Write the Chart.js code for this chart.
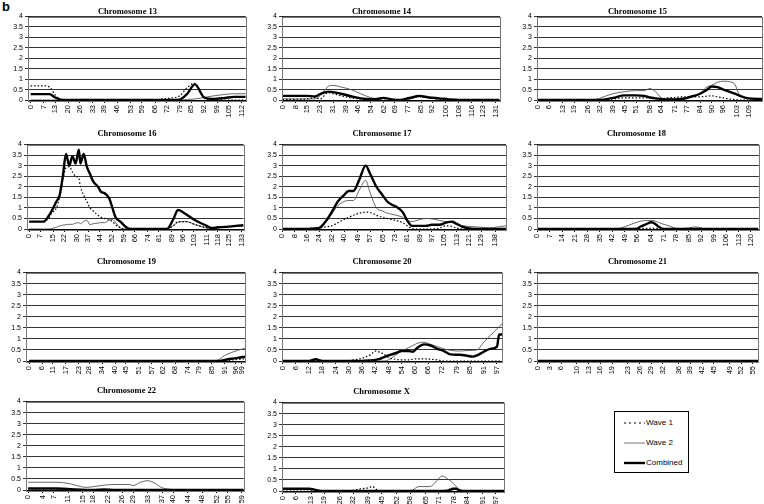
<!DOCTYPE html>
<html>
<head>
<meta charset="utf-8">
<script src="https://cdn.jsdelivr.net/npm/chart.js@4.4.0/dist/chart.umd.min.js"></script>
<style>
body { margin: 0; background: #fff; width: 764px; height: 504px; position: relative; overflow: hidden; font-family: "Liberation Sans", Arial, sans-serif; }
canvas { position: absolute; }
#tag { position: absolute; left: 2px; top: -1px; font: bold 13px "Liberation Sans", Arial, sans-serif; }
#legend { position: absolute; left: 614px; top: 411px; width: 73px; height: 60px; border: 1px solid #000; font-size: 8px; }
#legend div { position: absolute; left: 9px; height: 10px; line-height: 10px; }
#legend svg { vertical-align: middle; margin-right: 1px; }
</style>
</head>
<body>
<div id="tag">b</div>
<div id="legend">
  <div style="top:6px"><svg width="21" height="4"><line x1="0" y1="2" x2="21" y2="2" stroke="#000" stroke-width="1.2" stroke-dasharray="2,3"/></svg>Wave 1</div>
  <div style="top:26px"><svg width="21" height="4"><line x1="0" y1="2" x2="21" y2="2" stroke="#777" stroke-width="1"/></svg>Wave 2</div>
  <div style="top:46px"><svg width="21" height="4"><line x1="0" y1="2" x2="21" y2="2" stroke="#000" stroke-width="2.4"/></svg>Combined</div>
</div>
<script>
// positions (cM) and LOD-like scores
var chr13Ticks = [0, 7, 13, 20, 26, 33, 39, 46, 53, 59, 66, 72, 79, 85, 92, 99, 105, 112];
var chr13Pos = [0, 7, 10, 13, 16, 20, 26, 33, 40, 66, 70, 75, 79, 83, 87, 92, 97, 103, 108, 114];
var chr13Wave1 = [0.68, 0.68, 0.62, 0.25, 0.02, 0, 0, 0, 0, 0, 0.05, 0.1, 0.2, 0.6, 0.8, 0.1, 0.02, 0, 0, 0];
var chr13Wave2 = [0, 0, 0, 0, 0, 0, 0.03, 0.03, 0, 0, 0, 0, 0, 0.02, 0.05, 0.12, 0.2, 0.27, 0.3, 0.3];
var chr13Combined = [0.28, 0.28, 0.28, 0.12, 0.02, 0, 0, 0, 0, 0, 0, 0, 0.02, 0.3, 0.75, 0.12, 0.05, 0.1, 0.15, 0.15];

var chr14Ticks = [0, 8, 15, 23, 31, 39, 46, 54, 62, 69, 77, 85, 92, 100, 108, 116, 123, 131];
var chr14Pos = [0, 15, 20, 23, 28, 31, 36, 42, 48, 54, 58, 62, 67, 72, 78, 84, 90, 96, 102, 108, 120, 133];
var chr14Wave1 = [0.03, 0.05, 0.12, 0.05, 0.35, 0.3, 0.2, 0.1, 0.05, 0.02, 0, 0, 0, 0, 0.05, 0.18, 0.12, 0.05, 0, 0, 0, 0];
var chr14Wave2 = [0.05, 0.05, 0.05, 0.2, 0.65, 0.7, 0.62, 0.5, 0.3, 0.12, 0.06, 0.1, 0.02, 0, 0.05, 0.15, 0.1, 0.05, 0.02, 0, 0, 0];
var chr14Combined = [0.2, 0.2, 0.17, 0.28, 0.4, 0.38, 0.3, 0.18, 0.08, 0.04, 0.05, 0.1, 0.03, 0, 0.1, 0.2, 0.12, 0.08, 0.03, 0, 0, 0];

var chr15Ticks = [0, 6, 13, 19, 26, 32, 39, 45, 51, 58, 64, 71, 77, 84, 90, 96, 103, 109];
var chr15Pos = [0, 26, 30, 34, 39, 45, 51, 55, 58, 61, 64, 67, 71, 75, 79, 84, 87, 90, 93, 96, 99, 102, 104, 109, 116];
var chr15Wave1 = [0, 0, 0, 0.02, 0.05, 0.1, 0.1, 0.1, 0.1, 0.05, 0.05, 0.1, 0.12, 0.15, 0.15, 0.15, 0.18, 0.2, 0.15, 0.1, 0.05, 0.02, 0, 0, 0];
var chr15Wave2 = [0, 0, 0.02, 0.15, 0.3, 0.4, 0.45, 0.45, 0.55, 0.4, 0.1, 0.05, 0.05, 0.1, 0.15, 0.3, 0.6, 0.7, 0.85, 0.9, 0.88, 0.75, 0.3, 0.08, 0.05];
var chr15Combined = [0, 0, 0, 0.02, 0.1, 0.22, 0.22, 0.2, 0.12, 0.08, 0.05, 0.03, 0.03, 0.05, 0.15, 0.3, 0.45, 0.65, 0.62, 0.5, 0.4, 0.3, 0.22, 0.08, 0.05];

var chr16Ticks = [0, 7, 15, 22, 30, 37, 44, 52, 59, 66, 74, 81, 89, 96, 103, 111, 118, 125, 133];
var chr16Pos = [0, 9, 12, 14, 17, 19, 21, 23, 25, 27, 29, 31, 32, 34, 36, 38, 40, 43, 45, 47, 50, 52, 54, 57, 60, 63, 86, 90, 93, 98, 104, 111, 114, 118, 123, 129, 134];
var chr16Wave1 = [0.35, 0.35, 0.5, 0.75, 1.0, 1.5, 2.3, 2.9, 2.95, 2.7, 2.5, 2.4, 2.0, 1.6, 1.3, 1.0, 0.85, 0.65, 0.55, 0.5, 0.45, 0.35, 0.2, 0.05, 0, 0, 0, 0.15, 0.35, 0.35, 0.2, 0.05, 0.02, 0.05, 0.1, 0.12, 0.15];
var chr16Wave2 = [0, 0, 0, 0.02, 0.08, 0.15, 0.18, 0.2, 0.22, 0.22, 0.28, 0.3, 0.25, 0.35, 0.42, 0.2, 0.25, 0.28, 0.3, 0.3, 0.42, 0.45, 0.3, 0.05, 0, 0, 0, 0.15, 0.32, 0.35, 0.2, 0.05, 0.02, 0.05, 0.1, 0.12, 0.15];
var chr16Combined = [0.35, 0.35, 0.6, 0.85, 1.3, 1.6, 2.5, 3.55, 3.0, 3.45, 3.1, 3.75, 3.1, 3.55, 2.95, 2.6, 2.25, 2.0, 1.75, 1.7, 1.45, 1.0, 0.55, 0.35, 0.12, 0, 0, 0.45, 0.9, 0.7, 0.4, 0.15, 0.05, 0.08, 0.1, 0.15, 0.18];

var chr17Ticks = [0, 8, 16, 24, 32, 40, 49, 57, 65, 73, 81, 89, 97, 105, 113, 121, 129, 138];
var chr17Pos = [0, 16, 20, 24, 28, 32, 36, 40, 43, 46, 50, 54, 57, 61, 65, 68, 71, 74, 78, 81, 84, 89, 93, 97, 102, 106, 110, 113, 117, 121, 129, 134, 140, 145];
var chr17Wave1 = [0, 0.02, 0.03, 0.05, 0.1, 0.15, 0.3, 0.45, 0.55, 0.65, 0.75, 0.8, 0.78, 0.65, 0.55, 0.5, 0.45, 0.4, 0.3, 0.15, 0.03, 0, 0, 0, 0.05, 0.15, 0.12, 0.05, 0, 0, 0, 0, 0, 0];
var chr17Wave2 = [0, 0.02, 0.03, 0.05, 0.3, 0.7, 1.1, 1.3, 1.35, 1.35, 1.85, 2.3, 1.7, 1.0, 0.85, 0.75, 0.7, 0.65, 0.55, 0.4, 0.35, 0.45, 0.5, 0.48, 0.4, 0.35, 0.3, 0.2, 0.15, 0.12, 0.08, 0.05, 0.1, 0.15];
var chr17Combined = [0, 0, 0.02, 0.05, 0.35, 0.8, 1.3, 1.6, 1.8, 1.8, 2.35, 3.0, 2.6, 2.0, 1.6, 1.3, 1.15, 1.05, 0.8, 0.4, 0.15, 0.15, 0.15, 0.2, 0.2, 0.3, 0.35, 0.25, 0.1, 0.03, 0, 0, 0, 0];

var chr18Ticks = [0, 7, 14, 21, 28, 35, 42, 49, 56, 64, 71, 78, 85, 92, 99, 106, 113, 120];
var chr18Pos = [0, 44, 47, 52, 56, 58, 61, 64, 66, 68, 70, 74, 77, 80, 85, 89, 92, 95, 124];
var chr18Wave1 = [0, 0, 0, 0, 0.02, 0.03, 0.03, 0.03, 0.03, 0.02, 0, 0, 0, 0, 0, 0, 0, 0, 0];
var chr18Wave2 = [0, 0, 0.05, 0.2, 0.32, 0.37, 0.4, 0.4, 0.38, 0.32, 0.25, 0.15, 0.05, 0.02, 0.05, 0.1, 0.05, 0, 0];
var chr18Combined = [0, 0, 0, 0, 0.02, 0.12, 0.22, 0.32, 0.25, 0.12, 0.02, 0, 0, 0, 0, 0, 0, 0, 0];

var chr19Ticks = [0, 6, 11, 17, 23, 28, 34, 40, 45, 51, 57, 62, 68, 74, 79, 85, 91, 96, 99];
var chr19Pos = [0, 85, 88, 91, 94, 97, 100.6];
var chr19Wave1 = [0, 0, 0, 0.02, 0.04, 0.07, 0.1];
var chr19Wave2 = [0, 0, 0.05, 0.25, 0.38, 0.48, 0.58];
var chr19Combined = [0, 0, 0, 0.05, 0.1, 0.14, 0.2];

var chr20Ticks = [0, 6, 12, 18, 24, 30, 36, 42, 48, 54, 60, 66, 72, 79, 85, 91, 97];
var chr20Pos = [0, 12, 15, 18, 28, 32, 36, 40, 42, 44, 46, 48, 51, 54, 57, 59, 61, 64, 67, 70, 73, 76, 80, 83, 86, 88, 91, 94, 97, 98, 99.4];
var chr20Wave1 = [0, 0, 0, 0, 0, 0.05, 0.12, 0.3, 0.45, 0.4, 0.3, 0.15, 0.08, 0.05, 0.05, 0.08, 0.1, 0.1, 0.08, 0.05, 0, 0, 0, 0, 0, 0, 0, 0, 0, 0, 0];
var chr20Wave2 = [0, 0, 0, 0, 0, 0, 0, 0, 0, 0, 0, 0.05, 0.25, 0.45, 0.6, 0.7, 0.8, 0.85, 0.75, 0.65, 0.55, 0.48, 0.45, 0.47, 0.48, 0.5, 0.85, 1.15, 1.45, 1.55, 1.7];
var chr20Combined = [0, 0, 0.08, 0, 0, 0, 0, 0.03, 0.05, 0.1, 0.18, 0.25, 0.35, 0.45, 0.45, 0.42, 0.6, 0.75, 0.7, 0.55, 0.45, 0.3, 0.28, 0.25, 0.2, 0.25, 0.42, 0.55, 0.65, 1.2, 1.2];

var chr21Ticks = [0, 3, 6, 10, 13, 16, 19, 23, 26, 29, 32, 36, 39, 42, 45, 49, 52, 55];
var chr21Pos = [0, 56.3];
var chr21Wave1 = [0, 0];
var chr21Wave2 = [0, 0];
var chr21Combined = [0, 0];

var chr22Ticks = [0, 4, 7, 11, 15, 18, 22, 26, 29, 33, 37, 40, 44, 48, 52, 55, 59];
var chr22Pos = [0, 8, 11, 13, 16, 18, 21, 24, 28, 29, 31, 33, 35, 37, 40, 44, 59.5];
var chr22Wave1 = [0.05, 0.05, 0.03, 0, 0, 0, 0, 0, 0, 0, 0, 0, 0, 0, 0, 0, 0];
var chr22Wave2 = [0.35, 0.35, 0.3, 0.22, 0.12, 0.15, 0.22, 0.25, 0.25, 0.2, 0.35, 0.42, 0.3, 0.1, 0.02, 0, 0];
var chr22Combined = [0.07, 0.07, 0.05, 0.02, 0, 0, 0.03, 0, 0, 0, 0, 0, 0, 0, 0, 0, 0];

var chrXTicks = [0, 6, 13, 19, 26, 32, 39, 45, 52, 58, 65, 71, 78, 84, 91, 97];
var chrXPos = [0, 12, 15, 18, 30, 33, 36, 39, 41, 42, 44, 58, 62, 67, 70, 72.5, 75, 77, 78, 79, 80, 82, 100.8];
var chrXWave1 = [0.05, 0.05, 0.03, 0, 0, 0.05, 0.1, 0.15, 0.2, 0.12, 0, 0, 0, 0, 0, 0, 0.05, 0.12, 0.15, 0.1, 0.03, 0, 0];
var chrXWave2 = [0.07, 0.07, 0.04, 0, 0, 0, 0, 0, 0, 0, 0, 0, 0.2, 0.2, 0.45, 0.68, 0.55, 0.4, 0.3, 0.2, 0.1, 0, 0];
var chrXCombined = [0.1, 0.1, 0.05, 0, 0, 0, 0, 0, 0, 0, 0, 0, 0, 0, 0, 0, 0.02, 0.08, 0.1, 0.1, 0.05, 0, 0];

// panel layout: plot area [left, top, right, bottom] and x range
var panels = [
    { title: 'Chromosome 13', pos: chr13Pos, w1: chr13Wave1, w2: chr13Wave2, comb: chr13Combined, ticks: chr13Ticks, xMin: -1.4, xMax: 114, plot: [28, 16, 251, 100], first: true },
    { title: 'Chromosome 14', pos: chr14Pos, w1: chr14Wave1, w2: chr14Wave2, comb: chr14Combined, ticks: chr14Ticks, xMin: -0.3, xMax: 133.5, plot: [282, 16, 505, 100], first: true },
    { title: 'Chromosome 15', pos: chr15Pos, w1: chr15Wave1, w2: chr15Wave2, comb: chr15Combined, ticks: chr15Ticks, xMin: -0.3, xMax: 116, plot: [537, 16, 762, 100], first: true },
    { title: 'Chromosome 16', pos: chr16Pos, w1: chr16Wave1, w2: chr16Wave2, comb: chr16Combined, ticks: chr16Ticks, xMin: -1.4, xMax: 134, plot: [27, 144, 251, 229] },
    { title: 'Chromosome 17', pos: chr17Pos, w1: chr17Wave1, w2: chr17Wave2, comb: chr17Combined, ticks: chr17Ticks, xMin: -0.2, xMax: 145, plot: [282, 144, 506, 229] },
    { title: 'Chromosome 18', pos: chr18Pos, w1: chr18Wave1, w2: chr18Wave2, comb: chr18Combined, ticks: chr18Ticks, xMin: -0.2, xMax: 124.5, plot: [537, 144, 760, 229] },
    { title: 'Chromosome 19', pos: chr19Pos, w1: chr19Wave1, w2: chr19Wave2, comb: chr19Combined, ticks: chr19Ticks, xMin: -1.5, xMax: 100.6, plot: [26, 272, 251, 361] },
    { title: 'Chromosome 20', pos: chr20Pos, w1: chr20Wave1, w2: chr20Wave2, comb: chr20Combined, ticks: chr20Ticks, xMin: -0.2, xMax: 99.4, plot: [282, 272, 506, 361] },
    { title: 'Chromosome 21', pos: chr21Pos, w1: chr21Wave1, w2: chr21Wave2, comb: chr21Combined, ticks: chr21Ticks, xMin: -0.2, xMax: 56.3, plot: [537, 272, 762, 361] },
    { title: 'Chromosome 22', pos: chr22Pos, w1: chr22Wave1, w2: chr22Wave2, comb: chr22Combined, ticks: chr22Ticks, xMin: -0.6, xMax: 59.5, plot: [26, 401, 251, 490] },
    { title: 'Chromosome X', pos: chrXPos, w1: chrXWave1, w2: chrXWave2, comb: chrXCombined, ticks: chrXTicks, xMin: -0.3, xMax: 100.8, plot: [282, 402, 505, 491] }
];

var YW = 24, TH = 20, XH = 22, PR = 2;

// box round the plot area, like the spreadsheet's frame
var frame = {
    id: 'frame',
    afterDraw: function (chart) {
        var a = chart.chartArea, ctx = chart.ctx;
        ctx.save();
        ctx.strokeStyle = '#777';
        ctx.lineWidth = 1;
        ctx.strokeRect(Math.round(a.left) + 0.5, Math.round(a.top) + 0.5, Math.round(a.right - a.left), Math.round(a.bottom - a.top));
        ctx.restore();
    }
};

function pts(pos, vals) {
    return pos.map(function (x, i) { return { x: x, y: vals[i] }; });
}

panels.forEach(function (p) {
    var c = document.createElement('canvas');
    var w = YW + (p.plot[2] - p.plot[0]) + PR;
    var h = TH + (p.plot[3] - p.plot[1]) + XH;
    c.width = w; c.height = h;
    c.style.left = (p.plot[0] - YW) + 'px';
    c.style.top = (p.plot[1] - TH) + 'px';
    document.body.appendChild(c);

    new Chart(c, {
        type: 'line',
        data: {
            datasets: [{
                label: 'Combined',
                data: pts(p.pos, p.comb),
                borderColor: '#000',
                borderWidth: 2.4,
                order: 0
            }, {
                label: 'Wave 1',
                data: pts(p.pos, p.w1),
                borderColor: '#000',
                borderWidth: 1.2,
                borderDash: [1.5, 2],
                order: 1
            }, {
                label: 'Wave 2',
                data: pts(p.pos, p.w2),
                borderColor: '#555',
                borderWidth: 0.9,
                order: 2
            }]
        },
        options: {
            responsive: false,
            animation: false,
            devicePixelRatio: 1,
            layout: { padding: { left: 0, right: PR, top: 0, bottom: 0 } },
            elements: {
                point: { radius: 0 },
                line: { cubicInterpolationMode: 'monotone', fill: false }
            },
            plugins: {
                legend: { display: false },
                tooltip: { enabled: false },
                title: {
                    display: true,
                    text: p.title,
                    color: '#000',
                    font: { family: '"Liberation Serif", "Times New Roman", serif', weight: 'bold', size: 8.5, lineHeight: 1 },
                    padding: p.first ? { top: 12, bottom: 0 } : { top: 6, bottom: 6 }
                }
            },
            scales: {
                x: {
                    type: 'linear',
                    min: p.xMin,
                    max: p.xMax,
                    afterBuildTicks: function (s) {
                        s.ticks = p.ticks.map(function (v) { return { value: v }; });
                    },
                    afterFit: function (s) { s.height = XH; },
                    ticks: {
                        autoSkip: false,
                        minRotation: 90,
                        maxRotation: 90,
                        padding: 2,
                        color: '#000',
                        font: { family: '"Liberation Sans", Arial, sans-serif', size: 7.5 },
                        callback: function (v) { return String(v); }
                    },
                    grid: { drawOnChartArea: false, drawTicks: true, tickLength: 3, color: '#000' },
                    border: { display: true, color: '#000' }
                },
                y: {
                    min: 0,
                    max: 4,
                    afterFit: function (s) { s.width = YW; },
                    ticks: {
                        stepSize: 0.5,
                        autoSkip: false,
                        padding: 2,
                        color: '#000',
                        font: { family: '"Liberation Sans", Arial, sans-serif', size: 7 },
                        callback: function (v) { return String(v); }
                    },
                    grid: { color: '#333', lineWidth: 1, tickLength: 3 },
                    border: { display: true, color: '#000' }
                }
            }
        },
        plugins: [frame]
    });
});
</script>
</body>
</html>
